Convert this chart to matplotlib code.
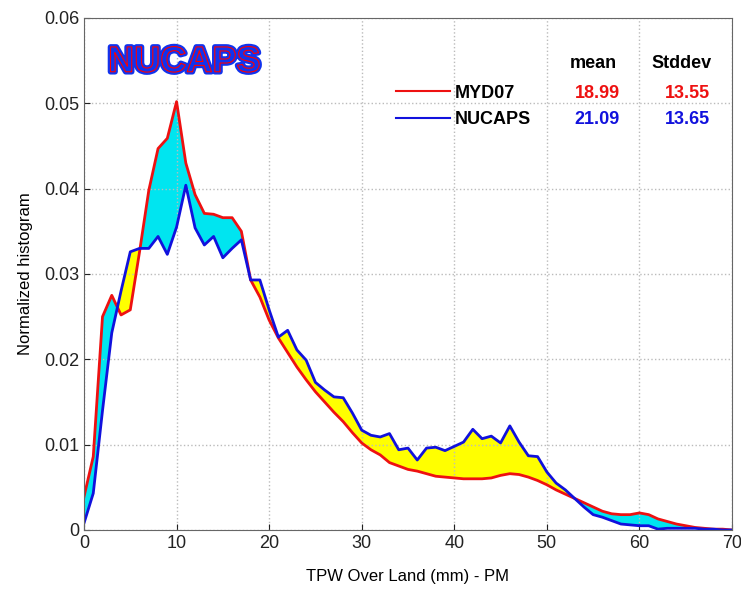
import numpy as np
import matplotlib
matplotlib.use("Agg")
import matplotlib.pyplot as plt
import matplotlib.patheffects as pe

plt.rcParams['font.family'] = ['Liberation Sans', 'DejaVu Sans']

# TPW bins (mm)
tpw = np.arange(0, 71)

# normalized histogram, MYD07
myd07 = [0.0039, 0.0086, 0.0250, 0.0275, 0.0252, 0.0258, 0.0326, 0.0398, 0.0447, 0.0459,
         0.0502, 0.0430, 0.0393, 0.0371, 0.0370, 0.0366, 0.0366, 0.0350, 0.0293, 0.0273,
         0.0246, 0.0225, 0.0208, 0.0191, 0.0176, 0.0162, 0.0150, 0.0138, 0.0127, 0.0114,
         0.0102, 0.0094, 0.0088, 0.0079, 0.0075, 0.0071, 0.0069, 0.0066, 0.0063, 0.0062,
         0.0061, 0.0060, 0.0060, 0.0060, 0.0061, 0.0064, 0.0066, 0.0065, 0.0062, 0.0058,
         0.0053, 0.0047, 0.0042, 0.0037, 0.0032, 0.0027, 0.0022, 0.0019, 0.0018, 0.0018,
         0.0020, 0.0018, 0.0013, 0.0010, 0.0007, 0.0005, 0.0003, 0.0002, 0.0001, 0.0001,
         0.0000]

# normalized histogram, NUCAPS
nucaps = [0.0008, 0.0043, 0.0140, 0.0231, 0.0280, 0.0326, 0.0330, 0.0330, 0.0344, 0.0323,
          0.0355, 0.0404, 0.0354, 0.0334, 0.0344, 0.0319, 0.0330, 0.0340, 0.0293, 0.0293,
          0.0258, 0.0226, 0.0234, 0.0211, 0.0199, 0.0173, 0.0164, 0.0156, 0.0155, 0.0137,
          0.0117, 0.0111, 0.0109, 0.0113, 0.0094, 0.0096, 0.0082, 0.0096, 0.0097, 0.0093,
          0.0098, 0.0103, 0.0118, 0.0107, 0.0110, 0.0102, 0.0122, 0.0103, 0.0087, 0.0086,
          0.0068, 0.0055, 0.0047, 0.0037, 0.0027, 0.0018, 0.0015, 0.0011, 0.0007, 0.0006,
          0.0005, 0.0005, 0.0001, 0.0002, 0.0002, 0.0002, 0.0002, 0.0001, 0.0001, 0.0000,
          0.0000]

names = ["MYD07", "NUCAPS"]
means = ["18.99", "21.09"]
stddevs = ["13.55", "13.65"]
colors = ["#ee1111", "#1111dd"]

myd07 = np.array(myd07)
nucaps = np.array(nucaps)

fig = plt.figure(figsize=(7.41, 5.89), dpi=100)
ax = fig.add_axes([84 / 741, 59 / 589, 648 / 741, 512 / 589])

# shaded difference
ax.fill_between(tpw, myd07, nucaps, where=myd07 >= nucaps, interpolate=True,
                color="#00e5f0", lw=0)
ax.fill_between(tpw, myd07, nucaps, where=nucaps >= myd07, interpolate=True,
                color="#ffff00", lw=0)

l1, = ax.plot(tpw, myd07, color=colors[0], lw=2.0, label=names[0])
l2, = ax.plot(tpw, nucaps, color=colors[1], lw=2.0, label=names[1])

ax.set_xlim(0, 70)
ax.set_ylim(0, 0.06)
ax.set_xticks(np.arange(0, 71, 10))
ax.set_yticks(np.arange(0, 0.061, 0.01))
ax.set_yticklabels(["0", "0.01", "0.02", "0.03", "0.04", "0.05", "0.06"])
ax.grid(True, linestyle=":", color="#bbbbbb", lw=1)
ax.tick_params(direction="in", labelsize=13, colors="#222222", length=4)
for s in ax.spines.values():
    s.set_color("#666666")

ax.set_xlabel("TPW Over Land (mm) - PM", fontsize=12, labelpad=12)
ax.set_ylabel("Normalized histogram", fontsize=12, labelpad=8)

# title inside the plot
ax.text(2.6, 0.0537, "NUCAPS", fontsize=26, color="#1133ee", fontweight="bold",
        path_effects=[pe.Stroke(linewidth=4, foreground="#1133ee"), pe.Normal(),
                      pe.Stroke(linewidth=0.8, foreground="red")])

# legend with stats
leg = ax.legend(handles=[l1, l2], loc="upper left", bbox_to_anchor=(0.481, 0.870),
                frameon=False, handlelength=3.0, handletextpad=0.25, labelspacing=0.55,
                borderpad=0, borderaxespad=0, prop={"size": 13, "weight": "bold"})
for h in leg.legend_handles:
    h.set_linewidth(1.5)

ax.text(55.0, 0.0547, "mean", fontsize=13, fontweight="bold", ha="center", va="center")
ax.text(64.6, 0.0547, "Stddev", fontsize=13, fontweight="bold", ha="center", va="center")
rows_y = [0.0512, 0.0481]
for i in range(2):
    ax.text(57.9, rows_y[i], means[i], fontsize=13, fontweight="bold", color=colors[i],
            ha="right", va="center")
    ax.text(67.6, rows_y[i], stddevs[i], fontsize=13, fontweight="bold", color=colors[i],
            ha="right", va="center")

fig.savefig("out.png", dpi=100)
